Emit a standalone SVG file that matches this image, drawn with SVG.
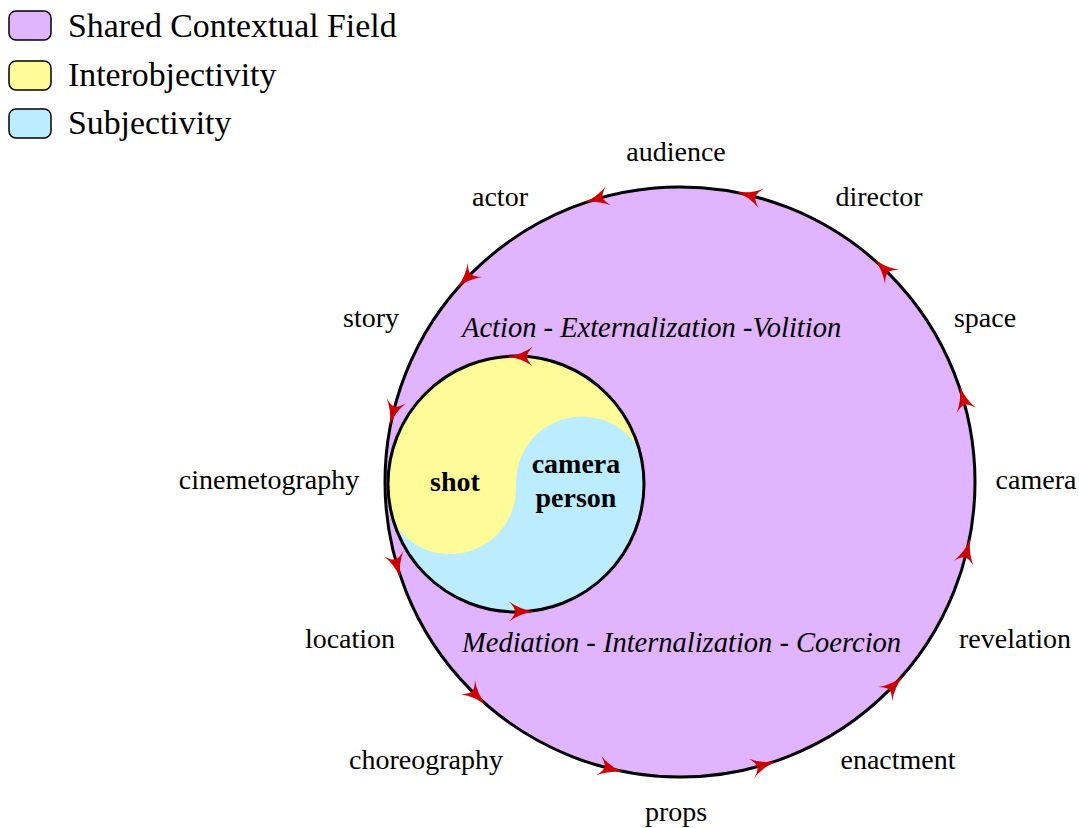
<svg xmlns="http://www.w3.org/2000/svg" xmlns:xlink="http://www.w3.org/1999/xlink" width="1079" height="828" viewBox="0 0 1079 828">
<style>
.lbl{font-family:"Liberation Serif","Times New Roman",serif;font-size:28px;fill:#000;text-anchor:middle}
.it{font-family:"Liberation Serif","Times New Roman",serif;font-size:28.5px;font-style:italic;fill:#000}
.bd{font-family:"Liberation Serif","Times New Roman",serif;font-size:28px;font-weight:bold;fill:#000;text-anchor:middle}
.leg{font-family:"Liberation Serif","Times New Roman",serif;font-size:33.8px;fill:#000}
.lbox{stroke:#000;stroke-width:1.5}
.ring{stroke:#000;stroke-width:3;fill:none}
</style>
<defs>
<path id="ah" d="M 20,0 Q 6,-2 -5,-10 Q 1,-4 1,0 Q 1,4 -5,10 Q 6,2 20,0 Z" fill="#CC0000"/>
<clipPath id="inner"><circle cx="516" cy="484" r="128"/></clipPath>
</defs>
<rect width="1079" height="828" fill="#fff"/>
<g id="legend">
<rect class="lbox" x="9" y="11" width="42" height="29" rx="7" fill="#E0B4FF"/>
<text class="leg" x="68" y="37">Shared Contextual Field</text>
<rect class="lbox" x="9" y="61" width="42" height="29" rx="7" fill="#FFFB99"/>
<text class="leg" x="68" y="86">Interobjectivity</text>
<rect class="lbox" x="9" y="109" width="42" height="29" rx="7" fill="#BBECFF"/>
<text class="leg" x="68" y="134">Subjectivity</text>
</g>
<g id="field">
<circle cx="680" cy="482" r="295" fill="#E0B4FF"/>
<text class="it" x="462" y="337">Action - Externalization -Volition</text>
<text class="it" x="462" y="652">Mediation - Internalization - Coercion</text>
</g>
<g id="core">
<g clip-path="url(#inner)">
<rect x="380" y="350" width="280" height="270" fill="#FFFB99"/>
<path d="M 389,513 A 66,66 0 0 0 516,484 A 66,66 0 0 1 642,455 L 700,455 L 700,700 L 330,700 L 330,513 Z" fill="#BBECFF"/>
</g>
<text class="bd" x="455" y="491">shot</text>
<text class="bd" x="576" y="473">camera</text>
<text class="bd" x="576" y="507">person</text>
</g>
<g id="connectors">
<circle class="ring" cx="680" cy="482" r="295"/>
<circle class="ring" cx="516" cy="484" r="128"/>
<use xlink:href="#ah" transform="translate(603.6,197.1) rotate(165)"/>
<use xlink:href="#ah" transform="translate(756.4,197.1) rotate(-165)"/>
<use xlink:href="#ah" transform="translate(888.6,273.4) rotate(-135)"/>
<use xlink:href="#ah" transform="translate(965,405.6) rotate(-105)"/>
<use xlink:href="#ah" transform="translate(965,558.4) rotate(-75)"/>
<use xlink:href="#ah" transform="translate(888.6,690.6) rotate(-45)"/>
<use xlink:href="#ah" transform="translate(756.4,767) rotate(-15)"/>
<use xlink:href="#ah" transform="translate(603.6,767) rotate(15)"/>
<use xlink:href="#ah" transform="translate(471.4,690.6) rotate(45)"/>
<use xlink:href="#ah" transform="translate(395,558.4) rotate(75)"/>
<use xlink:href="#ah" transform="translate(395,405.6) rotate(105)"/>
<use xlink:href="#ah" transform="translate(471.4,273.4) rotate(135)"/>
<use xlink:href="#ah" transform="translate(528,356.5) rotate(180)"/>
<use xlink:href="#ah" transform="translate(514,611.5)"/>
</g>
<g id="labels">
<text class="lbl" x="676" y="161">audience</text>
<text class="lbl" x="500" y="206">actor</text>
<text class="lbl" x="879" y="206">director</text>
<text class="lbl" x="371" y="327">story</text>
<text class="lbl" x="985" y="327">space</text>
<text class="lbl" x="269" y="489">cinemetography</text>
<text class="lbl" x="1036" y="489">camera</text>
<text class="lbl" x="350" y="648">location</text>
<text class="lbl" x="1015" y="648">revelation</text>
<text class="lbl" x="426" y="769">choreography</text>
<text class="lbl" x="898" y="769">enactment</text>
<text class="lbl" x="676" y="821">props</text>
</g>
</svg>
